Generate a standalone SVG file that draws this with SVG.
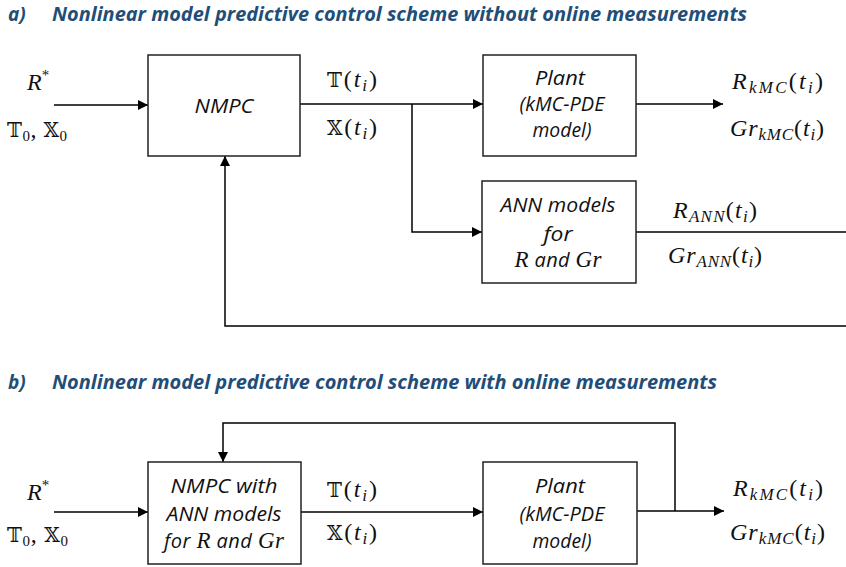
<svg xmlns="http://www.w3.org/2000/svg" width="846" height="567" viewBox="0 0 846 567">
  <defs>
    <marker id="arrow" viewBox="0 0 10 10" refX="10" refY="5" markerWidth="10" markerHeight="10" markerUnits="userSpaceOnUse" orient="auto">
      <path d="M0,0 L10,5 L0,10 Z" fill="#000"/>
    </marker>
  </defs>
  <style>
    .title { font-family: "Open Sans", "Liberation Sans", sans-serif; font-weight: bold; font-style: italic; font-size: 19px; fill: #1f4e79; }
    .box { fill: #fff; stroke: #222; stroke-width: 1.5; }
    .btxt { font-family: "Open Sans", "Liberation Sans", sans-serif; font-style: italic; font-size: 20px; fill: #111; text-anchor: middle; }
    .sym { font-family: "Liberation Serif", "DejaVu Serif", serif; font-size: 23px; font-style: italic; }
    .math { font-family: "Liberation Serif", "DejaVu Serif", serif; font-size: 24px; fill: #111; }
    .mi { font-style: italic; }
    .sub { font-size: 17px; font-style: italic; }
    .bb { font-family: "DejaVu Serif", "DejaVu Sans", serif; font-size: 20px; }
    .sup0 { font-size: 15px; }
    .wire { fill: none; stroke: #000; stroke-width: 1.5; }
  </style>
  <rect width="846" height="567" fill="#fff"/>

  <!-- section titles -->
  <text class="title" x="8" y="21">a)</text>
  <text class="title" x="52" y="21" textLength="695" lengthAdjust="spacingAndGlyphs">Nonlinear model predictive control scheme without online measurements</text>
  <text class="title" x="8" y="389">b)</text>
  <text class="title" x="52" y="389" textLength="665" lengthAdjust="spacingAndGlyphs">Nonlinear model predictive control scheme with online measurements</text>

  <!-- connectors -->
  <g id="connectors">
    <!-- scheme a -->
    <line class="wire" x1="54" y1="105" x2="148" y2="105" marker-end="url(#arrow)"/>
    <line class="wire" x1="300" y1="104" x2="483" y2="104" marker-end="url(#arrow)"/>
    <polyline class="wire" points="412,104 412,232 482,232" marker-end="url(#arrow)"/>
    <line class="wire" x1="636" y1="104" x2="723" y2="104" marker-end="url(#arrow)"/>
    <line class="wire" x1="636" y1="232" x2="846" y2="232"/>
    <polyline class="wire" points="846,326 225,326 225,156" marker-end="url(#arrow)"/>
    <!-- scheme b -->
    <line class="wire" x1="54" y1="512" x2="148" y2="512" marker-end="url(#arrow)"/>
    <line class="wire" x1="301" y1="512" x2="483" y2="512" marker-end="url(#arrow)"/>
    <line class="wire" x1="637" y1="511" x2="724" y2="511" marker-end="url(#arrow)"/>
    <polyline class="wire" points="675,511 675,423 223,423 223,462" marker-end="url(#arrow)"/>
  </g>

  <!-- scheme a nodes -->
  <g id="nmpc-a">
    <rect class="box" x="148" y="55" width="152" height="101"/>
    <text class="btxt" x="224" y="113" textLength="59" lengthAdjust="spacingAndGlyphs">NMPC</text>
  </g>
  <g id="plant-a">
    <rect class="box" x="483" y="55" width="153" height="101"/>
    <text class="btxt" x="560" y="85" textLength="50" lengthAdjust="spacingAndGlyphs">Plant</text>
    <text class="btxt" x="562" y="111" textLength="85" lengthAdjust="spacingAndGlyphs">(kMC-PDE</text>
    <text class="btxt" x="562" y="137" textLength="59" lengthAdjust="spacingAndGlyphs">model)</text>
  </g>
  <g id="ann-a">
    <rect class="box" x="482" y="181" width="154" height="102"/>
    <text class="btxt" x="558" y="212" textLength="115" lengthAdjust="spacingAndGlyphs">ANN models</text>
    <text class="btxt" x="558" y="241" textLength="29" lengthAdjust="spacingAndGlyphs">for</text>
    <text class="btxt" x="558" y="267" textLength="87" lengthAdjust="spacing"><tspan class="sym">R</tspan> and <tspan class="sym">Gr</tspan></text>
  </g>

  <!-- scheme a signal labels -->
  <g id="labels-a">
    <text class="math" x="27" y="90"><tspan class="mi">R</tspan><tspan class="sup0" dy="-10">*</tspan></text>
    <text class="math" x="7" y="137" textLength="60" lengthAdjust="spacing"><tspan class="bb">𝕋</tspan><tspan class="sup0" dy="4">0</tspan><tspan dy="-4">, </tspan><tspan class="bb">𝕏</tspan><tspan class="sup0" dy="4">0</tspan></text>
    <text class="math" x="327" y="87" textLength="50" lengthAdjust="spacing"><tspan class="bb">𝕋</tspan>(<tspan class="mi">t</tspan><tspan class="sub" dy="4">i</tspan><tspan dy="-4">)</tspan></text>
    <text class="math" x="327" y="135" textLength="50" lengthAdjust="spacing"><tspan class="bb">𝕏</tspan>(<tspan class="mi">t</tspan><tspan class="sub" dy="4">i</tspan><tspan dy="-4">)</tspan></text>
    <text class="math" x="732" y="89" textLength="91" lengthAdjust="spacing"><tspan class="mi">R</tspan><tspan class="sub" dy="4">kMC</tspan><tspan dy="-4">(</tspan><tspan class="mi">t</tspan><tspan class="sub" dy="4">i</tspan><tspan dy="-4">)</tspan></text>
    <text class="math" x="730" y="136" textLength="94" lengthAdjust="spacing"><tspan class="mi">Gr</tspan><tspan class="sub" dy="4">kMC</tspan><tspan dy="-4">(</tspan><tspan class="mi">t</tspan><tspan class="sub" dy="4">i</tspan><tspan dy="-4">)</tspan></text>
    <text class="math" x="673" y="218" textLength="84" lengthAdjust="spacing"><tspan class="mi">R</tspan><tspan class="sub" dy="4">ANN</tspan><tspan dy="-4">(</tspan><tspan class="mi">t</tspan><tspan class="sub" dy="4">i</tspan><tspan dy="-4">)</tspan></text>
    <text class="math" x="668" y="263" textLength="94" lengthAdjust="spacing"><tspan class="mi">Gr</tspan><tspan class="sub" dy="4">ANN</tspan><tspan dy="-4">(</tspan><tspan class="mi">t</tspan><tspan class="sub" dy="4">i</tspan><tspan dy="-4">)</tspan></text>
  </g>

  <!-- scheme b nodes -->
  <g id="nmpc-b">
    <rect class="box" x="148" y="462" width="153" height="102"/>
    <text class="btxt" x="224" y="493" textLength="107" lengthAdjust="spacingAndGlyphs">NMPC with</text>
    <text class="btxt" x="224" y="521" textLength="115" lengthAdjust="spacingAndGlyphs">ANN models</text>
    <text class="btxt" x="224" y="548" textLength="120" lengthAdjust="spacing">for <tspan class="sym">R</tspan> and <tspan class="sym">Gr</tspan></text>
  </g>
  <g id="plant-b">
    <rect class="box" x="483" y="462" width="154" height="102"/>
    <text class="btxt" x="560" y="493" textLength="50" lengthAdjust="spacingAndGlyphs">Plant</text>
    <text class="btxt" x="562" y="521" textLength="85" lengthAdjust="spacingAndGlyphs">(kMC-PDE</text>
    <text class="btxt" x="562" y="548" textLength="59" lengthAdjust="spacingAndGlyphs">model)</text>
  </g>

  <!-- scheme b signal labels -->
  <g id="labels-b">
    <text class="math" x="27" y="500"><tspan class="mi">R</tspan><tspan class="sup0" dy="-10">*</tspan></text>
    <text class="math" x="7" y="542" textLength="61" lengthAdjust="spacing"><tspan class="bb">𝕋</tspan><tspan class="sup0" dy="4">0</tspan><tspan dy="-4">, </tspan><tspan class="bb">𝕏</tspan><tspan class="sup0" dy="4">0</tspan></text>
    <text class="math" x="327" y="497" textLength="50" lengthAdjust="spacing"><tspan class="bb">𝕋</tspan>(<tspan class="mi">t</tspan><tspan class="sub" dy="4">i</tspan><tspan dy="-4">)</tspan></text>
    <text class="math" x="327" y="540" textLength="50" lengthAdjust="spacing"><tspan class="bb">𝕏</tspan>(<tspan class="mi">t</tspan><tspan class="sub" dy="4">i</tspan><tspan dy="-4">)</tspan></text>
    <text class="math" x="733" y="496" textLength="90" lengthAdjust="spacing"><tspan class="mi">R</tspan><tspan class="sub" dy="4">kMC</tspan><tspan dy="-4">(</tspan><tspan class="mi">t</tspan><tspan class="sub" dy="4">i</tspan><tspan dy="-4">)</tspan></text>
    <text class="math" x="730" y="540" textLength="95" lengthAdjust="spacing"><tspan class="mi">Gr</tspan><tspan class="sub" dy="4">kMC</tspan><tspan dy="-4">(</tspan><tspan class="mi">t</tspan><tspan class="sub" dy="4">i</tspan><tspan dy="-4">)</tspan></text>
  </g>
</svg>
